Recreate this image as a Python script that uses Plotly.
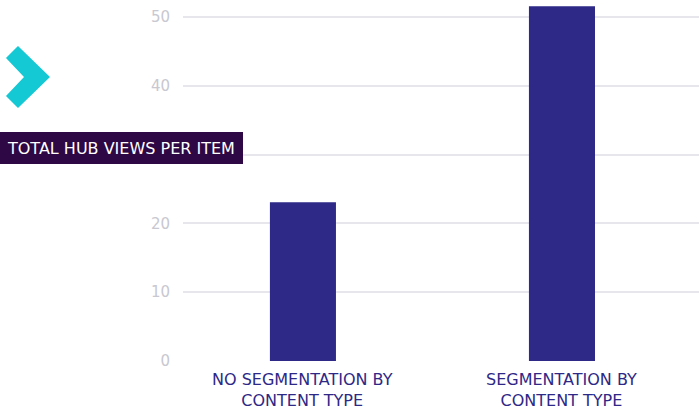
import plotly.graph_objects as go

categories = ["NO SEGMENTATION BY<br>CONTENT TYPE", "SEGMENTATION BY<br>CONTENT TYPE"]
values = [23.1, 51.6]
y_ticks = [0, 10, 20, 30, 40, 50]
y_tick_labels = ["0", "10", "20", "", "40", "50"]  # "30" is hidden behind the title box
title_text = "TOTAL HUB VIEWS PER ITEM"

W, H = 699, 410
L, R, T, B = 183, 0, 0, 49
pw, ph = W - L - R, H - T - B
XR = [-0.463, 1.529]
FONT = "DejaVu Sans"

def px(x):
    return (x - L) / pw

def py(y):
    return (H - B - y) / ph

fig = go.Figure()
fig.add_trace(go.Bar(
    x=[0, 1], y=values, width=0.255,
    marker=dict(color="#2e2887", line=dict(width=0)),
    hoverinfo="skip",
))

chev = [(6, 58), (18, 46), (50, 77), (18, 108), (6, 96), (24, 77)]
path = "M " + " L ".join(f"{px(a):.5f},{py(b):.5f}" for a, b in chev) + " Z"

annotations = [
    dict(text=title_text, xref="paper", yref="paper",
         x=px(5), y=py(148), xanchor="left", yanchor="middle",
         showarrow=False,
         font=dict(family=FONT, size=16, color="white")),
]
for i, cat in enumerate(categories):
    annotations.append(dict(
        text=cat, x=i, xref="x", yref="paper",
        y=py(389.5), xanchor="center", yanchor="middle",
        showarrow=False, borderpad=0,
        font=dict(family=FONT, size=16, color="#2e2887"),
    ))

fig.update_layout(
    width=W, height=H,
    margin=dict(l=L, r=R, t=T, b=B),
    paper_bgcolor="white", plot_bgcolor="white",
    showlegend=False,
    hovermode=False,
    xaxis=dict(
        range=XR, showticklabels=False, fixedrange=True,
        showgrid=False, zeroline=False, showline=False,
    ),
    yaxis=dict(
        range=[0, 52.5], fixedrange=True,
        tickmode="array", tickvals=y_ticks, ticktext=y_tick_labels,
        tickfont=dict(family=FONT, size=15, color="#c8c8d0"),
        ticks="outside", ticklen=9, tickcolor="rgba(0,0,0,0)",
        showgrid=True, gridcolor="#e6e6ec", gridwidth=2,
        zeroline=False, showline=False,
    ),
    shapes=[
        dict(type="path", path=path, xref="paper", yref="paper",
             fillcolor="#14c8d4", line=dict(width=0), layer="above"),
        dict(type="rect", xref="paper", yref="paper",
             x0=px(0), x1=px(243), y0=py(164), y1=py(132),
             fillcolor="#2d0844", line=dict(width=0), layer="above"),
    ],
    annotations=annotations,
)

fig.write_html("out.html", config={"displayModeBar": False},
               post_script="document.body.style.margin='0';document.body.style.padding='0';")
